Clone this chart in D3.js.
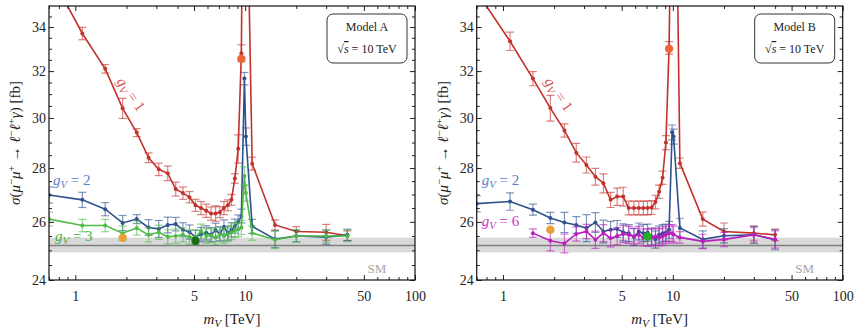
<!DOCTYPE html>
<html lang="en">
<head>
<meta charset="UTF-8">
<title>sigma vs mV</title>
<script src="https://d3js.org/d3.v7.min.js"></script>
<style>
  body { margin: 0; background: #fff; }
  text { font-family: "Liberation Serif", "DejaVu Serif", serif; }
</style>
</head>
<body>
<div class="canvas"></div>
<script>
// mass grid (TeV), shared by all series
const mass = [0.7, 1.1, 1.5, 1.9, 2.3, 2.7, 3.1, 3.5, 3.9, 4.3, 4.7, 5.1, 5.5, 5.9, 6.3, 6.7,
              7.1, 7.5, 7.9, 8.3, 8.7, 9.1, 9.5, 9.9, 10.1, 11, 15, 20, 30, 40];

// Model A
const a_g1 = [36.7, 33.7, 32.1, 30.4, 29.4, 28.4, 27.95, 27.8, 27.2, 27.05, 26.9, 26.6, 26.5, 26.4, 26.3, 26.3,
              26.35, 26.5, 26.6, 26.8, 27.6, 28.75, 32.8, 55, 45, 28.17, 25.89, 25.66, 25.63, 25.51];
const a_g1_err = [0.3, 0.29, 0.19, 0.42, 0.16, 0.19, 0.24, 0.28, 0.26, 0.23, 0.21, 0.22, 0.24, 0.24, 0.24, 0.28,
                  0.2, 0.24, 0.2, 0.2, 0.18, 0.56, 0.38, 0.5, 0.5, 0.25, 0.18, 0.17, 0.28, 0.17];
const a_g2 = [26.98, 26.8, 26.46, 25.96, 26.1, 25.8, 25.75, 25.89, 25.92, 25.72, 25.64, 25.46, 25.55, 25.61, 25.55, 25.7,
              25.58, 25.82, 25.6, 25.72, 25.85, 26.0, 26.21, 31.67, 29.24, 25.84, 25.39, 25.5, 25.46, 25.54];
const a_g2_err = [0.3, 0.28, 0.24, 0.27, 0.16, 0.28, 0.3, 0.28, 0.24, 0.25, 0.25, 0.25, 0.25, 0.25, 0.25, 0.25,
                  0.25, 0.25, 0.25, 0.25, 0.25, 0.25, 0.25, 0.27, 0.35, 0.25, 0.3, 0.2, 0.25, 0.2];
const a_g3 = [26.1, 25.87, 25.87, 25.6, 25.78, 25.54, 25.63, 25.47, 25.5, 25.54, 25.46, 25.45, 25.67, 25.5, 25.52, 25.45,
              25.55, 25.5, 25.55, 25.62, 25.7, 25.73, 25.8, 27.7, 27.05, 25.6, 25.37, 25.5, 25.5, 25.5];
const a_g3_err = [0.25, 0.22, 0.22, 0.25, 0.25, 0.25, 0.25, 0.25, 0.25, 0.25, 0.25, 0.25, 0.25, 0.25, 0.25, 0.25,
                  0.25, 0.25, 0.25, 0.25, 0.25, 0.25, 0.25, 0.35, 0.3, 0.25, 0.3, 0.22, 0.22, 0.2];
const a_dotMass = [1.9, 5.1, 9.5];
const a_dotVal = [25.44, 25.33, 32.55];

// Model B
const b_g1 = [35.7, 33.34, 31.67, 30.41, 29.49, 28.6, 28.12, 27.67, 27.42, 26.8, 26.92, 26.92, 26.5, 26.5, 26.5, 26.5,
              26.5, 26.52, 26.72, 27.1, 27.63, 29.0, 33.04, 45, 55, 28.19, 26.1, 25.66, 25.6, 25.54];
const b_g1_err = [0.3, 0.42, 0.31, 0.54, 0.27, 0.37, 0.31, 0.32, 0.36, 0.28, 0.32, 0.35, 0.25, 0.25, 0.25, 0.25,
                  0.25, 0.25, 0.25, 0.25, 0.25, 0.28, 0.28, 0.5, 0.5, 0.2, 0.25, 0.3, 0.25, 0.2];
const b_g2 = [26.66, 26.74, 26.44, 26.14, 25.98, 25.89, 25.78, 25.98, 25.66, 25.72, 25.75, 25.63, 25.6, 25.46, 25.66, 25.6,
              25.62, 25.48, 25.38, 25.55, 25.6, 25.62, 25.72, 29.41, 29.24, 25.78, 25.38, 25.51, 25.54, 25.37];
const b_g2_err = [0.3, 0.32, 0.2, 0.2, 0.36, 0.3, 0.48, 0.35, 0.4, 0.3, 0.3, 0.3, 0.3, 0.3, 0.3, 0.3,
                  0.3, 0.3, 0.3, 0.3, 0.3, 0.3, 0.3, 0.3, 0.3, 0.35, 0.3, 0.25, 0.3, 0.35];
const b_g6 = [null, null, 25.6, 25.33, 25.24, 25.57, 25.66, 25.37, 25.6, 25.42, 25.5, 25.57, 25.54, 25.48, 25.54, 25.45,
              25.44, 25.45, 25.48, 25.45, 25.48, 25.54, 25.6, 25.6, 25.55, 25.45, 25.31, 25.38, 25.54, 25.38];
const b_g6_err = [0, 0, 0.15, 0.35, 0.33, 0.25, 0.25, 0.3, 0.3, 0.3, 0.3, 0.3, 0.3, 0.3, 0.3, 0.3,
                  0.3, 0.3, 0.3, 0.3, 0.3, 0.3, 0.3, 0.3, 0.3, 0.2, 0.25, 0.25, 0.25, 0.3];
const b_dotMass = [1.9, 7.1, 9.5];
const b_dotVal = [25.72, 25.48, 33.0];

// Standard Model band
const smValue = 25.17;
const smBand = [24.93, 25.44];

const xMajor = [1, 5, 10, 50, 100];
const xMinor = [0.7, 0.8, 0.9, 2, 3, 4, 6, 7, 8, 9, 20, 30, 40, 60, 70, 80, 90];
const yMajor = [24, 26, 28, 30, 32, 34];
const yMinor = d3.range(24.5, 35, 0.5).filter(v => !yMajor.includes(v));

const width = 859, height = 334;
const [yTop, yBot] = [6, 280];
const plotW = 366;

const svg = d3.select('.canvas').append('svg')
  .attr('width', width).attr('height', height);

// little helper for italic / sub / superscript pieces
function rich(sel, parts) {
  let shift = 0;
  parts.forEach(([t, k]) => {
    const ts = sel.append('tspan').text(t);
    let target = 0;
    if (k.includes('i')) ts.attr('font-style', 'italic');
    if (k.includes('^')) { ts.attr('font-size', '0.72em'); target = -5; }
    if (k.includes('_')) { ts.attr('font-size', '0.72em'); target = 3; }
    if (k.includes('o')) ts.style('text-decoration', 'overline');
    if (target !== shift) ts.attr('dy', target - shift);
    shift = target;
  });
}

function panel(p) {
  const x = d3.scaleLog().domain([0.7, 100]).range([p.left, p.left + plotW]);
  const y = d3.scaleLog().domain([24, 35]).range([yBot, yTop]);
  const g = svg.append('g');

  svg.append('clipPath').attr('id', p.id)
    .append('rect').attr('x', p.left).attr('y', yTop).attr('width', plotW).attr('height', yBot - yTop);
  const plot = g.append('g').attr('clip-path', `url(#${p.id})`);

  // SM band + line
  plot.append('rect')
    .attr('x', p.left).attr('width', plotW)
    .attr('y', y(smBand[1])).attr('height', y(smBand[0]) - y(smBand[1]))
    .attr('fill', '#d9d9d9');
  plot.append('line')
    .attr('x1', p.left).attr('x2', p.left + plotW)
    .attr('y1', y(smValue)).attr('y2', y(smValue))
    .attr('stroke', '#7f7f7f').attr('stroke-width', 1.5);

  p.series.forEach(s => {
    const pts = mass.map((m, i) => ({ m, v: s.vals[i], e: s.errs[i] })).filter(d => d.v != null);
    const eb = plot.append('g').attr('stroke', s.color).attr('stroke-opacity', 0.6).attr('stroke-width', 1.2);
    pts.forEach(d => {
      const cx = x(d.m), y1 = y(d.v - d.e), y2 = y(d.v + d.e);
      eb.append('line').attr('x1', cx).attr('x2', cx).attr('y1', y1).attr('y2', y2);
      eb.append('line').attr('x1', cx - 4).attr('x2', cx + 4).attr('y1', y1).attr('y2', y1);
      eb.append('line').attr('x1', cx - 4).attr('x2', cx + 4).attr('y1', y2).attr('y2', y2);
    });
    const line = d3.line().x(d => x(d.m)).y(d => y(d.v));
    plot.append('path').attr('d', line(pts))
      .attr('fill', 'none').attr('stroke', s.color).attr('stroke-width', 1.6);
    plot.selectAll(null).data(pts).enter().append('circle')
      .attr('cx', d => x(d.m)).attr('cy', d => y(d.v)).attr('r', 2)
      .attr('fill', s.color);
  });

  // highlighted benchmark points
  plot.selectAll(null).data(p.dotMass).enter().append('circle')
    .attr('cx', d => x(d)).attr('cy', (d, i) => y(p.dotVal[i])).attr('r', 4.2)
    .attr('fill', (d, i) => p.dotColors[i]);

  // axes with inward ticks on all four sides
  const xb = g.append('g').attr('transform', `translate(0,${yBot})`);
  xb.call(d3.axisBottom(x).tickValues(xMinor).tickSize(-3).tickFormat(''));
  xb.append('g').call(d3.axisBottom(x).tickValues(xMajor).tickSize(-5).tickPadding(11).tickFormat(d3.format('d')));
  const xt = g.append('g').attr('transform', `translate(0,${yTop})`);
  xt.call(d3.axisTop(x).tickValues(xMinor).tickSize(-3).tickFormat(''));
  xt.append('g').call(d3.axisTop(x).tickValues(xMajor).tickSize(-5).tickFormat(''));
  const yl = g.append('g').attr('transform', `translate(${p.left},0)`);
  yl.call(d3.axisLeft(y).tickValues(yMinor).tickSize(-3).tickFormat(''));
  yl.append('g').call(d3.axisLeft(y).tickValues(yMajor).tickSize(-5).tickPadding(3).tickFormat(d3.format('d')));
  const yr = g.append('g').attr('transform', `translate(${p.left + plotW},0)`);
  yr.call(d3.axisRight(y).tickValues(yMinor).tickSize(-3).tickFormat(''));
  yr.append('g').call(d3.axisRight(y).tickValues(yMajor).tickSize(-5).tickFormat(''));
  g.selectAll('.domain').remove();
  g.selectAll('.tick line').attr('stroke', '#222');
  g.selectAll('.tick text').attr('font-size', 14).attr('fill', '#222')
    .style('font-family', '"Liberation Serif", serif');

  g.append('rect').attr('x', p.left).attr('y', yTop).attr('width', plotW).attr('height', yBot - yTop)
    .attr('fill', 'none').attr('stroke', '#111').attr('stroke-width', 1.2);

  // axis titles
  rich(g.append('text').attr('x', p.left + 183).attr('y', 324).attr('text-anchor', 'middle')
    .attr('font-size', 15).attr('fill', '#222'),
    [['m', 'i'], ['V', 'i_'], [' [TeV]', '']]);
  rich(g.append('text').attr('transform', `translate(${p.left - 29},143) rotate(-90)`)
    .attr('text-anchor', 'middle').attr('font-size', 15).attr('fill', '#222'),
    [['σ', 'i'], ['(', ''], ['μ', 'i'], ['−', '^'], ['μ', 'i'], ['+', '^'], [' → ', ''],
     ['ℓ', 'i'], ['−', '^'], ['ℓ', 'i'], ['+', '^'], ['γ', 'i'], [') [fb]', '']]);

  // model box
  const bx = p.left + 278;
  g.append('rect').attr('x', bx).attr('y', 14).attr('width', 80).attr('height', 49)
    .attr('rx', 6).attr('fill', '#fff').attr('stroke', '#333').attr('stroke-width', 1);
  g.append('text').attr('x', bx + 40).attr('y', 31).attr('text-anchor', 'middle')
    .attr('font-size', 12).attr('fill', '#222').text(p.model);
  rich(g.append('text').attr('x', bx + 40).attr('y', 53).attr('text-anchor', 'middle')
    .attr('font-size', 12).attr('fill', '#222'),
    [['√', ''], ['s', 'io'], [' = 10 TeV', '']]);

  // SM tag
  g.append('text').attr('x', p.left + 328).attr('y', 273).attr('text-anchor', 'middle')
    .attr('font-size', 13).attr('fill', '#a6a6a6').text('SM');

  // coupling labels
  p.labels.forEach(l => {
    const t = g.append('text').attr('font-size', 15).attr('fill', l.color)
      .attr('transform', `translate(${p.left + l.dx},${l.y}) rotate(${l.rot || 0})`)
      .attr('text-anchor', l.rot ? 'middle' : 'start');
    rich(t, [['g', 'i'], ['V', 'i_'], [' = ' + l.n, '']]);
  });
}

const red = '#c3312c', blue = '#2f5190', green = '#4cbc45', magenta = '#bb1fbb';

panel({
  id: 'clipA', left: 49, model: 'Model A',
  series: [
    { vals: a_g1, errs: a_g1_err, color: red },
    { vals: a_g2, errs: a_g2_err, color: blue },
    { vals: a_g3, errs: a_g3_err, color: green }
  ],
  dotMass: a_dotMass, dotVal: a_dotVal, dotColors: ['#e8a037', '#1d6a1d', '#ee6637'],
  labels: [
    { n: 1, color: '#d05555', dx: 78, y: 97, rot: 55 },
    { n: 2, color: '#5a82cc', dx: 4, y: 185 },
    { n: 3, color: '#45b045', dx: 6, y: 241 }
  ]
});

panel({
  id: 'clipB', left: 476.7, model: 'Model B',
  series: [
    { vals: b_g1, errs: b_g1_err, color: red },
    { vals: b_g2, errs: b_g2_err, color: blue },
    { vals: b_g6, errs: b_g6_err, color: magenta }
  ],
  dotMass: b_dotMass, dotVal: b_dotVal, dotColors: ['#e8a037', '#22b022', '#ee6637'],
  labels: [
    { n: 1, color: '#d05555', dx: 78, y: 97, rot: 55 },
    { n: 2, color: '#5a82cc', dx: 5, y: 185 },
    { n: 6, color: '#cc33cc', dx: 5, y: 226 }
  ]
});
</script>
</body>
</html>
